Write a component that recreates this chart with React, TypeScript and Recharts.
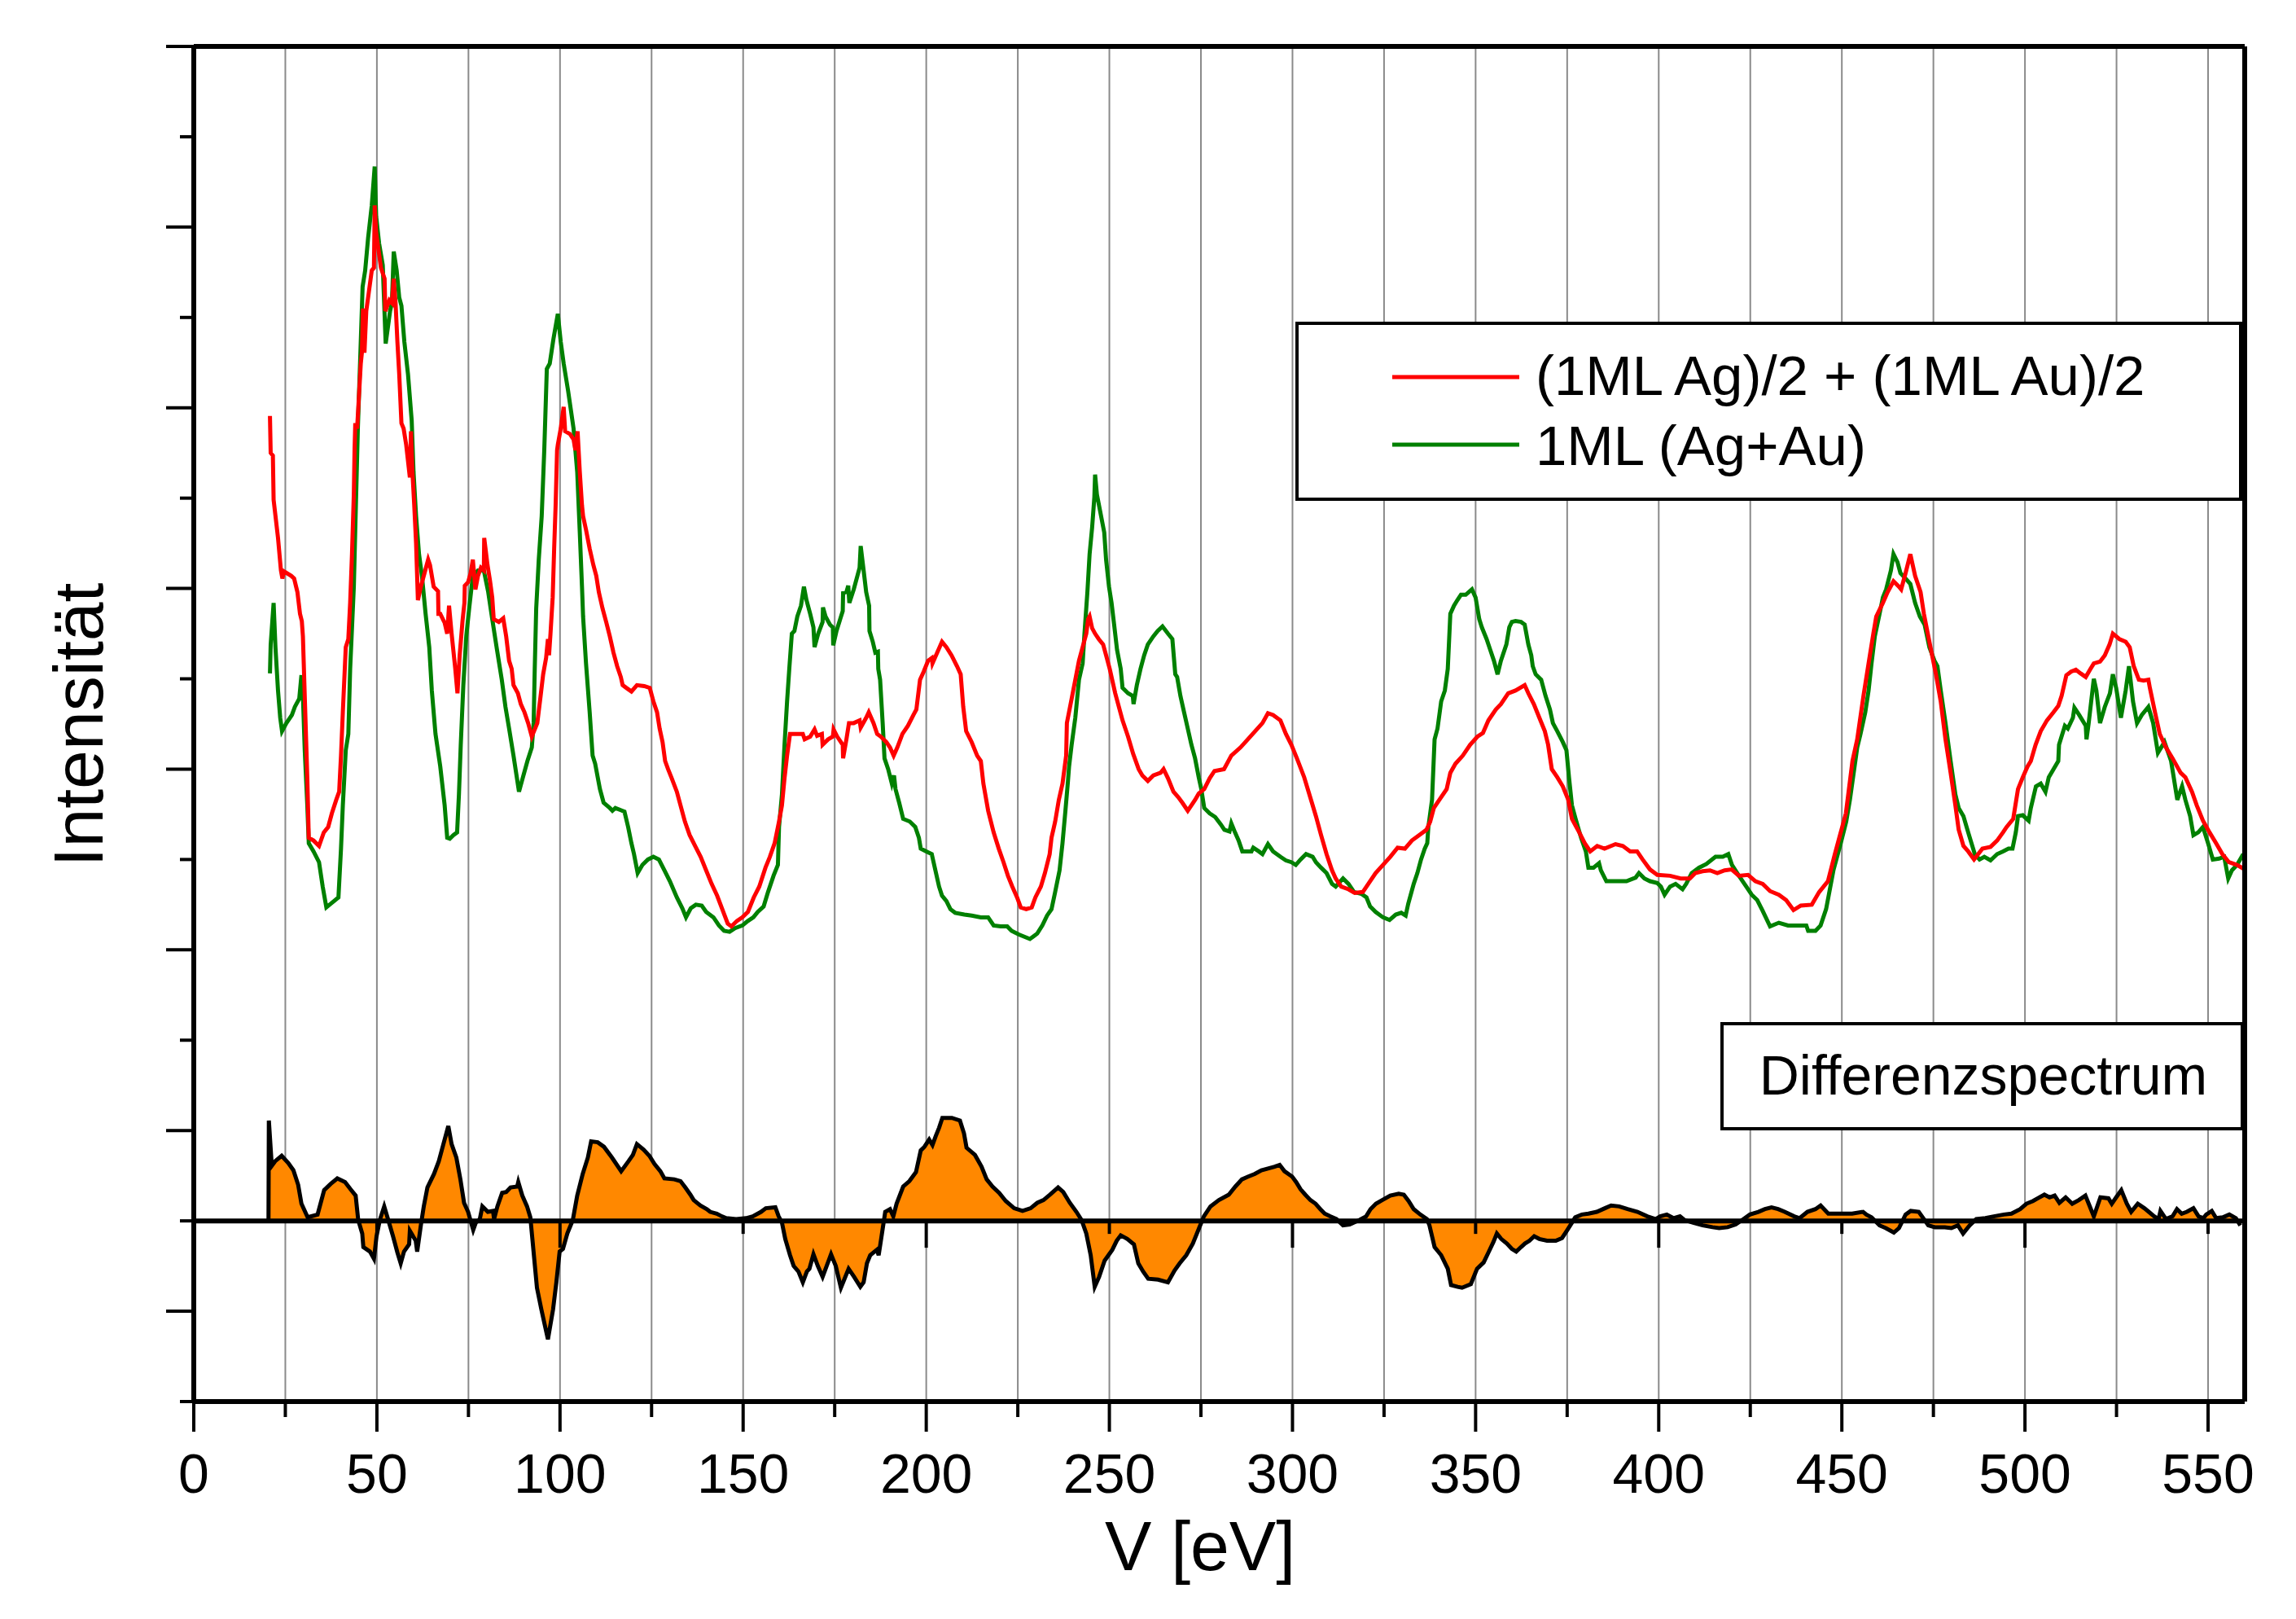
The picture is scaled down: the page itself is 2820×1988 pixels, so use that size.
import React from "react";
import {
  ComposedChart,
  Line,
  Area,
  XAxis,
  YAxis,
  CartesianGrid,
  ReferenceLine,
} from "recharts";

const W = 2820;
const H = 1988;
const FONT = '"Liberation Sans", Arial, Helvetica, sans-serif';

// x ticks every 25 eV (labels on the 50s), y ticks without labels
const xTicks = [0, 25, 50, 75, 100, 125, 150, 175, 200, 225, 250, 275, 300, 325, 350, 375, 400, 425, 450, 475, 500, 525, 550];
const yTicks = [-2, -1, 0, 1, 2, 3, 4, 5, 6, 7, 8, 9, 10, 11, 12, 13];
const zeroAxisTicks = [50, 100, 150, 200, 250, 300, 350, 400, 450, 500, 550];

// [V in eV, intensity]
const redCurve: [number, number][] = [
  [20.8, 8.91], [21.0, 8.5], [21.6, 8.47], [21.8, 7.98], [23.0, 7.56], [23.8, 7.2], [24.2, 7.11], [24.6, 7.19], [26.6, 7.14], [27.4, 7.11],
  [28.3, 6.96], [29.0, 6.72], [29.5, 6.64], [29.8, 6.47], [30.3, 5.81], [31.0, 4.9], [31.4, 4.24], [32.7, 4.21], [34.2, 4.15], [35.5, 4.3],
  [36.7, 4.36], [37.7, 4.51], [38.9, 4.66], [39.7, 4.75], [40.2, 5.15], [40.7, 5.63], [41.5, 6.35], [42.2, 6.44], [42.7, 6.84], [43.2, 7.38],
  [43.7, 8.04], [43.9, 8.53], [44.1, 8.83], [44.6, 8.77], [45.1, 9.13], [45.6, 9.49], [45.9, 9.61], [46.2, 10.1], [46.6, 9.61], [47.1, 10.07],
  [47.8, 10.28], [48.6, 10.52], [49.2, 10.55], [49.4, 11.24], [49.8, 10.94], [50.6, 10.7], [51.1, 10.55], [52.1, 10.43], [52.3, 10.07], [53.4, 10.19],
  [54.1, 10.16], [54.6, 10.43], [55.1, 10.16], [55.6, 9.73], [56.1, 9.37], [56.7, 8.83], [57.3, 8.77], [58.0, 8.59], [58.5, 8.41], [59.0, 8.23],
  [59.3, 8.74], [59.7, 8.29], [60.2, 7.92], [60.7, 7.5], [61.2, 6.87], [62.0, 7.02], [63.0, 7.17], [64.0, 7.32], [64.5, 7.26], [65.5, 7.02],
  [66.7, 6.97], [66.8, 6.72], [67.3, 6.72], [68.5, 6.62], [69.2, 6.5], [69.7, 6.81], [70.4, 6.5], [71.4, 6.11], [72.0, 5.84], [72.6, 6.26],
  [73.4, 6.65], [73.9, 6.84], [74.0, 7.03], [74.9, 7.07], [75.6, 7.17], [76.2, 7.32], [76.9, 6.99], [77.6, 7.14], [78.4, 7.23], [79.2, 7.2],
  [79.3, 7.56], [80.2, 7.26], [80.9, 7.08], [81.5, 6.9], [81.9, 6.66], [83.3, 6.63], [84.5, 6.67], [85.3, 6.47], [86.1, 6.2], [86.8, 6.11],
  [87.3, 5.93], [88.5, 5.84], [89.3, 5.72], [90.3, 5.63], [91.3, 5.51], [92.3, 5.36], [93.8, 5.51], [94.7, 5.81], [95.4, 6.05], [96.2, 6.23],
  [96.7, 6.44], [97.0, 6.26], [97.4, 6.5], [98.0, 6.9], [98.4, 7.44], [98.8, 7.92], [99.2, 8.53], [99.4, 8.59], [100.2, 8.77], [101.0, 9.01],
  [101.4, 8.74], [102.7, 8.71], [103.7, 8.65], [104.2, 8.53], [104.8, 8.74], [105.4, 8.29], [106.0, 7.92], [106.3, 7.8], [107.1, 7.65], [108.1, 7.44],
  [109.1, 7.26], [109.9, 7.14], [110.6, 6.96], [111.6, 6.78], [112.6, 6.63], [113.6, 6.47], [114.6, 6.29], [115.6, 6.14], [116.6, 6.02], [117.1, 5.93],
  [118.1, 5.9], [119.5, 5.86], [121.0, 5.93], [123.0, 5.92], [124.5, 5.9], [125.5, 5.75], [126.5, 5.63], [127.2, 5.45], [128.0, 5.3], [128.7, 5.09],
  [129.5, 5.0], [130.5, 4.9], [131.9, 4.75], [132.9, 4.6], [134.1, 4.42], [135.4, 4.27], [136.9, 4.15], [138.4, 4.03], [139.9, 3.88], [141.4, 3.73],
  [142.9, 3.6], [144.3, 3.45], [145.8, 3.29], [146.8, 3.26], [148.3, 3.32], [149.8, 3.36], [151.3, 3.42], [152.9, 3.58], [154.4, 3.7], [156.1, 3.91],
  [157.3, 4.03], [158.6, 4.18], [159.8, 4.42], [160.6, 4.6], [161.3, 4.9], [162.0, 5.15], [162.8, 5.39], [163.5, 5.39], [166.3, 5.39], [166.8, 5.33],
  [168.3, 5.36], [169.5, 5.44], [170.2, 5.37], [171.5, 5.39], [171.7, 5.27], [173.2, 5.33], [174.5, 5.36], [174.7, 5.44], [175.7, 5.36], [177.2, 5.27],
  [177.3, 5.12], [178.2, 5.33], [178.9, 5.51], [180.2, 5.51], [181.8, 5.54], [182.1, 5.46], [183.6, 5.57], [184.3, 5.63], [185.6, 5.51], [186.6, 5.39],
  [187.6, 5.36], [189.1, 5.3], [190.1, 5.24], [191.1, 5.15], [192.1, 5.24], [193.5, 5.39], [195.0, 5.48], [196.5, 5.6], [197.3, 5.66], [198.3, 5.99],
  [199.3, 6.08], [200.5, 6.2], [201.5, 6.23], [201.7, 6.17], [203.0, 6.29], [204.3, 6.41], [205.5, 6.35], [206.9, 6.26], [208.4, 6.14], [209.4, 6.05],
  [210.1, 5.69], [210.9, 5.42], [212.4, 5.3], [213.9, 5.15], [214.9, 5.09], [215.6, 4.84], [216.9, 4.54], [218.4, 4.3], [219.8, 4.12], [221.1, 3.97],
  [222.3, 3.82], [223.5, 3.7], [224.8, 3.58], [225.8, 3.47], [227.3, 3.45], [228.8, 3.47], [229.8, 3.58], [231.3, 3.7], [232.4, 3.85], [233.7, 4.06],
  [234.2, 4.24], [235.2, 4.42], [236.2, 4.66], [237.2, 4.84], [238.2, 5.15], [238.4, 5.51], [239.7, 5.78], [240.7, 5.99], [241.7, 6.2], [242.7, 6.35],
  [243.7, 6.5], [244.2, 6.66], [244.6, 6.69], [245.3, 6.56], [246.1, 6.5], [247.1, 6.44], [248.3, 6.38], [249.1, 6.26], [250.1, 6.11], [251.6, 5.84],
  [253.6, 5.54], [255.1, 5.36], [256.5, 5.17], [258.0, 5.0], [259.0, 4.93], [260.5, 4.87], [262.0, 4.93], [264.0, 4.96], [264.8, 5.0], [266.0, 4.9],
  [267.5, 4.75], [268.8, 4.69], [269.9, 4.63], [271.4, 4.54], [272.4, 4.6], [273.4, 4.66], [274.4, 4.73], [275.9, 4.78], [277.4, 4.9], [278.7, 4.98],
  [281.3, 5.0], [283.3, 5.15], [285.8, 5.24], [287.8, 5.33], [289.8, 5.42], [291.8, 5.51], [293.3, 5.62], [294.7, 5.6], [296.7, 5.54], [298.2, 5.39],
  [299.7, 5.27], [301.2, 5.12], [303.2, 4.91], [305.5, 4.6], [306.4, 4.48], [307.8, 4.27], [309.3, 4.06], [310.8, 3.88], [311.8, 3.79], [313.3, 3.7],
  [315.3, 3.67], [317.0, 3.63], [319.2, 3.64], [320.7, 3.73], [322.7, 3.85], [324.7, 3.94], [326.7, 4.03], [328.7, 4.13], [330.7, 4.12], [332.6, 4.21],
  [334.6, 4.27], [336.6, 4.33], [337.6, 4.42], [338.6, 4.57], [340.1, 4.66], [342.1, 4.78], [343.1, 4.96], [344.5, 5.06], [346.5, 5.15], [348.5, 5.27],
  [350.5, 5.36], [352.0, 5.4], [353.5, 5.54], [355.5, 5.66], [356.9, 5.72], [358.9, 5.84], [360.9, 5.87], [363.4, 5.93], [364.4, 5.84], [365.9, 5.72],
  [367.4, 5.57], [368.9, 5.42], [369.8, 5.27], [370.8, 5.0], [372.3, 4.91], [373.8, 4.81], [375.3, 4.66], [376.3, 4.45], [378.3, 4.3], [379.8, 4.18],
  [381.3, 4.09], [383.2, 4.15], [385.2, 4.12], [388.2, 4.17], [390.2, 4.15], [392.2, 4.09], [394.1, 4.09], [395.6, 4.0], [397.6, 3.89], [399.6, 3.83],
  [403.1, 3.82], [406.0, 3.79], [408.5, 3.79], [410.0, 3.85], [412.0, 3.87], [414.0, 3.88], [416.0, 3.85], [418.0, 3.88], [419.9, 3.89], [421.9, 3.82],
  [424.4, 3.83], [426.4, 3.76], [428.4, 3.73], [430.4, 3.65], [432.8, 3.61], [434.8, 3.55], [436.8, 3.44], [438.8, 3.49], [441.8, 3.5], [443.8, 3.64],
  [446.2, 3.76], [448.1, 4.06], [449.3, 4.24], [451.1, 4.51], [452.9, 5.09], [454.2, 5.33], [455.9, 5.81], [457.3, 6.17], [458.6, 6.5], [459.4, 6.69],
  [461.2, 6.84], [462.5, 6.96], [464.1, 7.08], [465.6, 7.02], [466.2, 6.99], [467.4, 7.17], [468.7, 7.38], [470.0, 7.14], [471.5, 6.96], [472.4, 6.72],
  [473.9, 6.41], [475.7, 6.05], [477.0, 5.75], [478.3, 5.33], [479.7, 4.96], [481.0, 4.6], [481.9, 4.33], [483.2, 4.15], [484.5, 4.09], [486.1, 4.0],
  [488.4, 4.12], [490.6, 4.14], [492.4, 4.21], [494.0, 4.3], [495.0, 4.36], [496.8, 4.45], [498.1, 4.78], [499.4, 4.91], [500.7, 5.03], [501.6, 5.09],
  [502.9, 5.27], [504.3, 5.42], [506.0, 5.54], [507.8, 5.63], [509.1, 5.7], [510.0, 5.81], [511.3, 6.04], [512.6, 6.08], [513.9, 6.1], [515.2, 6.06],
  [516.6, 6.02], [517.9, 6.11], [518.8, 6.17], [520.5, 6.19], [521.8, 6.26], [523.1, 6.38], [524.0, 6.5], [525.8, 6.44], [527.5, 6.41], [528.6, 6.35],
  [529.7, 6.14], [531.1, 5.99], [532.4, 5.98], [533.7, 5.99], [534.1, 5.9], [535.5, 5.63], [536.8, 5.39], [538.5, 5.24], [540.3, 5.12], [542.5, 4.96],
  [543.8, 4.91], [545.6, 4.75], [546.9, 4.6], [548.6, 4.43], [550.4, 4.3], [552.2, 4.18], [553.9, 4.06], [555.7, 3.97], [557.9, 3.94], [559.6, 3.9],
];

const greenCurve: [number, number][] = [
  [20.8, 6.06], [21.0, 6.38], [21.8, 6.84], [22.3, 6.35], [23.0, 5.87], [23.6, 5.57], [24.1, 5.42], [25.3, 5.51], [26.8, 5.6], [27.6, 5.69],
  [28.8, 5.78], [29.4, 6.04], [29.8, 5.81], [30.3, 5.21], [31.0, 4.6], [31.4, 4.18], [32.7, 4.09], [34.2, 3.97], [35.2, 3.7], [36.2, 3.47],
  [37.7, 3.52], [39.5, 3.58], [40.2, 4.12], [40.7, 4.6], [41.5, 5.21], [42.2, 5.39], [42.7, 6.11], [43.7, 7.02], [44.3, 7.98], [44.8, 8.77],
  [45.4, 9.49], [46.1, 10.34], [46.8, 10.52], [47.6, 10.88], [48.6, 11.24], [49.4, 11.67], [49.8, 11.12], [50.6, 10.82], [51.6, 10.58], [52.4, 9.71],
  [53.1, 9.92], [53.6, 10.07], [54.1, 10.16], [54.6, 10.73], [55.4, 10.52], [56.1, 10.22], [56.7, 10.13], [57.5, 9.73], [58.5, 9.37], [59.5, 8.86],
  [60.0, 8.29], [60.7, 7.8], [61.5, 7.38], [62.3, 7.14], [63.3, 6.72], [64.3, 6.35], [65.0, 5.87], [66.0, 5.39], [67.3, 5.03], [68.5, 4.6],
  [69.2, 4.24], [69.9, 4.23], [70.9, 4.27], [71.9, 4.3], [72.4, 4.72], [72.9, 5.27], [73.6, 5.93], [74.4, 6.47], [75.2, 6.78], [76.2, 7.14],
  [77.6, 7.2], [79.2, 7.2], [80.4, 6.96], [81.5, 6.66], [82.8, 6.32], [84.1, 5.99], [85.1, 5.69], [86.1, 5.45], [87.3, 5.15], [88.8, 4.75],
  [89.8, 4.9], [91.1, 5.09], [92.3, 5.24], [92.8, 5.51], [93.1, 6.11], [93.5, 6.78], [94.2, 7.32], [95.0, 7.8], [95.7, 8.53], [96.4, 9.43],
  [97.2, 9.49], [98.2, 9.76], [99.4, 10.04], [100.2, 9.73], [101.0, 9.49], [102.2, 9.19], [103.7, 8.77], [104.7, 8.29], [105.4, 7.62], [106.0, 7.02],
  [106.3, 6.69], [107.1, 6.17], [108.1, 5.63], [108.9, 5.15], [109.6, 5.06], [110.9, 4.78], [111.9, 4.63], [113.6, 4.57], [114.3, 4.54], [115.1, 4.57],
  [117.6, 4.53], [118.6, 4.36], [119.5, 4.18], [120.2, 4.06], [121.2, 3.85], [122.5, 3.94], [124.0, 4.0], [125.5, 4.03], [127.0, 4.0], [128.5, 3.88],
  [130.0, 3.76], [131.9, 3.58], [133.4, 3.46], [134.4, 3.36], [135.7, 3.46], [137.1, 3.5], [138.7, 3.49], [139.9, 3.42], [141.9, 3.36], [143.4, 3.27],
  [144.8, 3.21], [146.3, 3.2], [147.8, 3.24], [149.8, 3.27], [151.3, 3.32], [152.8, 3.36], [154.0, 3.42], [155.6, 3.48], [156.8, 3.64], [158.3, 3.82],
  [159.5, 3.94], [159.8, 4.36], [160.6, 4.72], [161.3, 5.27], [162.0, 5.75], [162.6, 6.11], [163.3, 6.5], [164.0, 6.53], [164.8, 6.69], [165.8, 6.81],
  [166.6, 7.02], [167.3, 6.87], [168.3, 6.72], [169.2, 6.57], [169.5, 6.35], [170.5, 6.5], [171.7, 6.63], [171.8, 6.79], [172.5, 6.69], [173.7, 6.6],
  [174.5, 6.57], [174.6, 6.37], [175.5, 6.53], [176.5, 6.66], [177.2, 6.75], [177.3, 6.95], [178.2, 6.96], [178.7, 7.03], [179.0, 6.84], [180.2, 6.99],
  [181.2, 7.14], [181.8, 7.23], [182.1, 7.47], [182.9, 7.2], [183.6, 6.96], [184.4, 6.81], [184.5, 6.53], [185.4, 6.41], [186.1, 6.29], [186.8, 6.3],
  [186.9, 6.11], [187.4, 5.99], [188.1, 5.51], [188.6, 5.12], [189.6, 5.0], [190.6, 4.84], [191.2, 4.93], [191.6, 4.78], [192.6, 4.63], [193.7, 4.45],
  [195.5, 4.42], [197.0, 4.36], [198.0, 4.24], [198.5, 4.12], [200.0, 4.09], [201.5, 4.06], [202.5, 3.88], [203.5, 3.7], [204.3, 3.6], [205.5, 3.54],
  [206.6, 3.45], [207.9, 3.41], [210.4, 3.39], [212.4, 3.38], [214.9, 3.36], [216.9, 3.36], [218.4, 3.27], [220.3, 3.26], [222.1, 3.26], [223.3, 3.21],
  [225.3, 3.17], [228.3, 3.12], [230.3, 3.18], [231.7, 3.27], [233.0, 3.38], [234.2, 3.45], [235.2, 3.64], [236.4, 3.88], [237.2, 4.18], [238.0, 4.54],
  [238.7, 4.87], [239.0, 5.03], [239.7, 5.27], [240.7, 5.57], [241.7, 5.99], [242.7, 6.17], [243.2, 6.5], [244.0, 6.96], [244.6, 7.38], [245.3, 7.68],
  [245.9, 8.01], [246.1, 8.26], [246.6, 8.04], [247.6, 7.83], [248.6, 7.62], [249.1, 7.32], [249.9, 7.02], [250.6, 6.84], [251.3, 6.6], [252.1, 6.32],
  [253.1, 6.11], [253.6, 5.9], [255.1, 5.84], [256.4, 5.81], [256.6, 5.72], [257.5, 5.93], [258.5, 6.11], [259.5, 6.26], [260.5, 6.38], [262.0, 6.47],
  [263.2, 6.53], [264.5, 6.58], [266.0, 6.5], [267.2, 6.44], [268.0, 6.05], [268.5, 6.02], [269.4, 5.81], [270.4, 5.63], [271.4, 5.45], [272.4, 5.27],
  [273.4, 5.12], [274.4, 4.91], [275.1, 4.78], [275.9, 4.57], [277.4, 4.51], [278.9, 4.47], [280.4, 4.39], [281.4, 4.33], [282.8, 4.31], [283.3, 4.4],
  [284.3, 4.3], [285.3, 4.21], [286.3, 4.09], [288.8, 4.09], [289.3, 4.13], [290.8, 4.09], [291.8, 4.06], [293.3, 4.17], [294.7, 4.09], [296.7, 4.03],
  [298.2, 3.99], [299.7, 3.97], [300.9, 3.94], [302.2, 4.0], [303.7, 4.06], [305.5, 4.03], [306.4, 3.97], [307.8, 3.91], [309.3, 3.85], [310.8, 3.73],
  [311.8, 3.7], [313.8, 3.79], [315.3, 3.73], [316.8, 3.64], [318.8, 3.62], [320.2, 3.58], [321.2, 3.48], [322.7, 3.42], [324.7, 3.36], [326.5, 3.33],
  [328.2, 3.39], [329.7, 3.41], [330.9, 3.38], [331.6, 3.51], [333.1, 3.73], [334.1, 3.85], [335.1, 4.0], [336.1, 4.12], [336.8, 4.18], [337.1, 4.36],
  [338.1, 4.66], [338.8, 5.33], [339.6, 5.45], [340.6, 5.75], [341.6, 5.87], [342.4, 6.11], [343.1, 6.72], [344.1, 6.81], [345.0, 6.87], [346.0, 6.93],
  [347.3, 6.93], [349.0, 6.99], [350.0, 6.9], [351.0, 6.66], [351.7, 6.57], [353.0, 6.44], [354.0, 6.32], [355.0, 6.2], [356.0, 6.05], [356.9, 6.2],
  [358.4, 6.38], [359.2, 6.57], [359.9, 6.63], [360.9, 6.64], [362.4, 6.63], [363.4, 6.6], [364.4, 6.38], [365.2, 6.26], [365.6, 6.14], [366.4, 6.05],
  [367.9, 5.99], [369.1, 5.81], [370.3, 5.66], [371.1, 5.51], [372.3, 5.42], [373.8, 5.3], [374.8, 5.21], [375.5, 4.91], [376.3, 4.6], [377.3, 4.45],
  [378.8, 4.24], [380.1, 4.09], [380.8, 3.91], [382.2, 3.91], [383.7, 3.96], [384.2, 3.88], [385.7, 3.76], [387.2, 3.76], [389.2, 3.76], [391.2, 3.76],
  [393.7, 3.8], [394.6, 3.85], [396.1, 3.79], [397.6, 3.76], [399.6, 3.74], [400.6, 3.7], [401.6, 3.61], [403.1, 3.7], [404.6, 3.73], [406.5, 3.67],
  [407.5, 3.73], [409.0, 3.85], [411.0, 3.91], [413.0, 3.95], [415.5, 4.03], [417.5, 4.03], [419.0, 4.06], [420.0, 3.94], [421.9, 3.82], [423.9, 3.7],
  [425.4, 3.61], [426.9, 3.55], [428.4, 3.43], [430.4, 3.26], [432.8, 3.3], [435.3, 3.27], [437.8, 3.27], [440.3, 3.27], [440.8, 3.21], [442.8, 3.21],
  [444.2, 3.27], [445.7, 3.45], [447.7, 3.88], [449.7, 4.18], [451.2, 4.42], [452.2, 4.66], [454.2, 5.24], [455.1, 5.39], [456.4, 5.63], [457.3, 5.87],
  [458.1, 6.17], [459.0, 6.47], [460.3, 6.72], [461.2, 6.9], [462.1, 6.99], [463.4, 7.2], [464.1, 7.38], [465.2, 7.29], [466.0, 7.17], [467.4, 7.11],
  [468.7, 7.05], [470.0, 6.84], [471.3, 6.69], [472.6, 6.6], [473.9, 6.35], [475.3, 6.2], [476.1, 6.14], [477.0, 5.87], [478.3, 5.51], [479.7, 5.09],
  [481.0, 4.72], [481.9, 4.57], [483.2, 4.48], [484.5, 4.3], [486.3, 4.06], [487.6, 4.0], [488.9, 4.03], [490.6, 3.99], [492.4, 4.06], [494.0, 4.09],
  [495.5, 4.12], [496.6, 4.12], [497.5, 4.3], [498.1, 4.48], [499.4, 4.49], [501.0, 4.43], [501.6, 4.57], [503.0, 4.81], [504.3, 4.84], [505.6, 4.75],
  [506.5, 4.91], [507.8, 5.0], [509.1, 5.09], [509.3, 5.27], [510.9, 5.48], [511.7, 5.45], [513.1, 5.57], [513.5, 5.68], [514.8, 5.6], [516.6, 5.48],
  [516.8, 5.33], [517.4, 5.51], [518.8, 6.0], [519.5, 5.87], [520.5, 5.51], [521.8, 5.69], [523.2, 5.84], [524.0, 6.05], [524.9, 5.9], [526.2, 5.57],
  [527.5, 5.87], [528.4, 6.14], [529.5, 5.75], [530.6, 5.51], [531.9, 5.6], [533.7, 5.69], [535.0, 5.51], [536.3, 5.18], [538.1, 5.3], [539.9, 5.09],
  [541.6, 4.66], [542.9, 4.81], [543.8, 4.66], [545.1, 4.48], [546.0, 4.27], [547.3, 4.3], [548.6, 4.36], [550.0, 4.18], [551.3, 4.0], [553.0, 4.01],
  [554.4, 4.03], [555.5, 3.79], [556.5, 3.88], [557.9, 3.94], [559.6, 4.06],
];

const diffCurve: [number, number][] = [
  [20.4, 0], [20.5, 1.11], [21.3, 0.61], [22.2, 0.66], [24.0, 0.72], [25.8, 0.64], [27.2, 0.56], [28.5, 0.4], [29.4, 0.19], [31.1, 0.04],
  [33.8, 0.07], [35.6, 0.34], [37.4, 0.41], [39.2, 0.47], [41.3, 0.43], [42.8, 0.35], [44.2, 0.28], [44.9, 0.01], [46.0, -0.14], [46.3, -0.29],
  [48.1, -0.34], [49.2, -0.42], [49.9, -0.17], [50.8, 0.01], [52.0, 0.16], [53.1, 0.01], [54.4, -0.17], [55.6, -0.35], [56.5, -0.47], [57.4, -0.34],
  [58.8, -0.26], [59.0, -0.11], [60.6, -0.22], [61.0, -0.34], [62.0, -0.05], [62.8, 0.16], [63.8, 0.37], [65.6, 0.52], [66.9, 0.66], [68.1, 0.84],
  [69.5, 1.05], [70.4, 0.85], [71.7, 0.7], [72.8, 0.46], [73.8, 0.2], [74.9, 0.1], [76.3, -0.1], [77.0, -0.02], [78.1, 0.02], [78.8, 0.16],
  [80.3, 0.1], [81.7, 0.11], [82.0, 0.02], [82.9, 0.16], [84.2, 0.31], [85.3, 0.32], [86.5, 0.37], [88.3, 0.38], [88.6, 0.43], [89.7, 0.28],
  [91.0, 0.16], [91.9, 0.04], [92.8, -0.35], [93.7, -0.74], [94.9, -0.98], [96.7, -1.31], [98.1, -0.98], [99.0, -0.68], [99.9, -0.34], [100.8, -0.31],
  [102.0, -0.14], [103.5, 0.01], [104.7, 0.28], [106.2, 0.52], [107.6, 0.7], [108.5, 0.88], [110.3, 0.87], [112.0, 0.82], [114.2, 0.7], [116.7, 0.55],
  [118.7, 0.66], [119.9, 0.73], [121.0, 0.85], [122.8, 0.79], [124.4, 0.72], [125.8, 0.63], [127.4, 0.55], [128.5, 0.47], [131.2, 0.46], [132.9, 0.44],
  [134.2, 0.37], [135.6, 0.29], [136.5, 0.23], [138.3, 0.17], [140.1, 0.13], [141.0, 0.1], [142.8, 0.08], [144.2, 0.05], [145.4, 0.03], [148.1, 0.02],
  [150.8, 0.03], [152.6, 0.05], [154.9, 0.1], [156.2, 0.14], [158.8, 0.15], [159.7, 0.05], [160.6, -0.02], [161.5, -0.2], [162.8, -0.38], [163.8, -0.5],
  [165.1, -0.56], [166.3, -0.68], [167.4, -0.56], [168.1, -0.53], [169.2, -0.37], [170.4, -0.5], [171.7, -0.62], [172.8, -0.5], [174.0, -0.37], [175.3, -0.5],
  [176.7, -0.74], [177.6, -0.65], [178.8, -0.53], [180.3, -0.62], [182.0, -0.73], [182.9, -0.68], [183.8, -0.47], [184.7, -0.38], [186.5, -0.32], [187.0, -0.38],
  [187.8, -0.17], [188.8, 0.1], [190.1, 0.13], [191.0, 0.05], [191.9, 0.19], [193.7, 0.38], [195.4, 0.44], [197.2, 0.54], [198.5, 0.78], [199.5, 0.82],
  [200.8, 0.9], [201.7, 0.84], [202.6, 0.94], [203.5, 1.03], [204.4, 1.14], [207.0, 1.14], [209.2, 1.11], [210.3, 0.97], [211.0, 0.81], [213.3, 0.73],
  [215.1, 0.6], [216.5, 0.46], [218.1, 0.38], [219.9, 0.31], [221.7, 0.22], [224.0, 0.14], [226.3, 0.11], [228.5, 0.14], [230.3, 0.2], [232.0, 0.23],
  [233.8, 0.29], [236.0, 0.37], [237.4, 0.32], [239.2, 0.2], [241.0, 0.1], [242.4, 0.01], [243.7, -0.14], [244.9, -0.38], [246.0, -0.73], [247.2, -0.62],
  [248.7, -0.44], [250.8, -0.32], [252.0, -0.22], [253.1, -0.16], [254.9, -0.2], [256.7, -0.26], [257.9, -0.47], [259.2, -0.56], [260.6, -0.64], [263.3, -0.65],
  [266.0, -0.68], [267.8, -0.55], [269.2, -0.47], [271.0, -0.38], [272.8, -0.25], [274.5, -0.08], [275.8, 0.05], [277.6, 0.16], [279.9, 0.23], [282.6, 0.29],
  [284.4, 0.38], [286.2, 0.46], [287.9, 0.49], [289.7, 0.52], [291.5, 0.56], [293.3, 0.58], [295.1, 0.6], [296.5, 0.62], [297.8, 0.55], [299.9, 0.49],
  [301.0, 0.43], [302.2, 0.35], [303.5, 0.29], [304.9, 0.23], [306.3, 0.19], [307.6, 0.13], [308.8, 0.08], [310.3, 0.05], [312.0, 0.02], [313.8, -0.05],
  [315.6, -0.04], [318.3, 0.01], [320.1, 0.05], [321.3, 0.13], [322.8, 0.19], [324.5, 0.23], [326.7, 0.28], [329.0, 0.3], [330.4, 0.29], [331.7, 0.22],
  [333.1, 0.13], [334.9, 0.07], [336.7, 0.02], [337.4, -0.05], [338.8, -0.29], [340.6, -0.38], [342.4, -0.53], [343.3, -0.71], [345.1, -0.73], [346.3, -0.74],
  [348.7, -0.7], [350.4, -0.53], [352.2, -0.46], [353.5, -0.35], [354.9, -0.23], [355.8, -0.14], [357.0, -0.2], [358.5, -0.25], [359.9, -0.31], [361.1, -0.34],
  [362.4, -0.29], [363.5, -0.25], [364.7, -0.22], [366.0, -0.17], [367.4, -0.2], [369.5, -0.22], [371.9, -0.22], [373.6, -0.19], [374.9, -0.11], [376.3, -0.02],
  [377.2, 0.04], [379.0, 0.07], [380.8, 0.08], [383.1, 0.1], [385.3, 0.14], [387.0, 0.17], [389.2, 0.16], [391.5, 0.13], [394.2, 0.1], [396.9, 0.05],
  [399.2, 0.02], [400.4, 0.05], [402.2, 0.07], [404.0, 0.03], [405.8, 0.05], [407.0, 0.01], [409.4, -0.02], [412.0, -0.05], [414.7, -0.07], [416.5, -0.08],
  [418.8, -0.07], [421.0, -0.04], [422.8, 0.01], [424.9, 0.07], [427.2, 0.1], [429.0, 0.13], [430.8, 0.15], [432.6, 0.13], [434.4, 0.1], [437.0, 0.05],
  [438.5, 0.03], [440.6, 0.1], [442.8, 0.13], [444.2, 0.17], [446.3, 0.08], [449.2, 0.08], [452.8, 0.08], [455.8, 0.1], [456.7, 0.07], [458.1, 0.04],
  [460.3, -0.05], [462.0, -0.08], [464.2, -0.13], [465.6, -0.08], [467.4, 0.07], [468.8, 0.11], [471.0, 0.1], [472.4, 0.02], [473.6, -0.05], [475.4, -0.07],
  [478.1, -0.07], [479.9, -0.08], [481.7, -0.05], [483.1, -0.14], [484.9, -0.05], [486.7, 0.02], [489.2, 0.03], [491.5, 0.05], [494.2, 0.07], [496.3, 0.08],
  [498.7, 0.13], [500.4, 0.19], [502.2, 0.22], [503.5, 0.25], [505.3, 0.29], [506.7, 0.26], [508.1, 0.28], [509.4, 0.2], [511.1, 0.26], [512.9, 0.19],
  [514.7, 0.23], [516.5, 0.28], [517.4, 0.19], [518.8, 0.05], [520.6, 0.26], [522.8, 0.25], [523.7, 0.19], [524.9, 0.26], [526.3, 0.34], [527.8, 0.19],
  [529.0, 0.1], [530.8, 0.19], [532.6, 0.14], [533.8, 0.1], [535.3, 0.05], [536.5, 0.02], [537.0, 0.11], [538.5, 0.02], [540.3, 0.05], [541.5, 0.13],
  [542.8, 0.08], [544.2, 0.1], [546.0, 0.14], [547.4, 0.05], [548.7, 0.03], [549.5, 0.07], [551.0, 0.11], [552.2, 0.03], [554.0, 0.04], [555.8, 0.07],
  [557.6, 0.03], [558.8, -0.05],
];

const toPoints = (arr: [number, number][]) => arr.map(([e, v]) => ({ e, v }));
const redData = toPoints(redCurve);
const greenData = toPoints(greenCurve);
const diffData = toPoints(diffCurve);

function XTick(props: any) {
  const { x, y, payload } = props;
  const major = payload.value % 50 === 0;
  return (
    <g>
      <line x1={x} y1={y} x2={x} y2={y + (major ? 37 : 19)} stroke="#000" strokeWidth={4} />
      {major && (
        <text x={x} y={y + 112} textAnchor="middle" fontSize={68} fontFamily={FONT} fill="#000">
          {payload.value}
        </text>
      )}
    </g>
  );
}

function YTick(props: any) {
  const { x, y, payload } = props;
  const major = Math.abs(payload.value) % 2 === 1;
  return <line x1={x - (major ? 34 : 17)} y1={y} x2={x} y2={y} stroke="#000" strokeWidth={4} />;
}

// zero line of the difference spectrum, with its own ticks hanging below
function ZeroAxis(props: any) {
  const { x1, x2, y1 } = props;
  const span = x2 - x1;
  return (
    <g>
      <line x1={x1} y1={y1} x2={x2} y2={y1} stroke="#000" strokeWidth={6} />
      {zeroAxisTicks.map((t) => {
        const px = x1 + (span * t) / 560;
        return (
          <line key={t} x1={px} y1={y1} x2={px} y2={y1 + (t % 100 === 0 ? 33 : 16)} stroke="#000" strokeWidth={4} />
        );
      })}
    </g>
  );
}

export default function App() {
  return (
    <div style={{ position: "absolute", left: 0, top: 0, width: W, height: H, background: "#fff" }}>
      <ComposedChart
        width={W}
        height={H}
        margin={{ top: 57, right: 63, bottom: 67, left: 0 }}
        style={{ fontFamily: FONT }}
      >
        <CartesianGrid vertical horizontal={false} stroke="#8a8a8a" strokeWidth={2} />
        <XAxis
          dataKey="e"
          type="number"
          domain={[0, 560]}
          allowDataOverflow
          ticks={xTicks}
          interval={0}
          height={200}
          tickSize={0}
          tickMargin={0}
          tickLine={false}
          tick={<XTick />}
          axisLine={{ stroke: "#000", strokeWidth: 6 }}
        />
        <YAxis
          type="number"
          domain={[-2, 13]}
          allowDataOverflow
          ticks={yTicks}
          interval={0}
          width={238}
          tickSize={0}
          tickMargin={0}
          tickLine={false}
          tick={<YTick />}
          axisLine={{ stroke: "#000", strokeWidth: 6 }}
        />
        <Area
          data={diffData}
          dataKey="v"
          type="linear"
          baseValue={0}
          stroke="#000"
          strokeWidth={5}
          fill="#FF8800"
          fillOpacity={1}
          isAnimationActive={false}
        />
        <Line data={greenData} dataKey="v" type="linear" stroke="#008000" strokeWidth={5} dot={false} isAnimationActive={false} />
        <Line data={redData} dataKey="v" type="linear" stroke="#FF0000" strokeWidth={5} dot={false} isAnimationActive={false} />
        <ReferenceLine y={0} shape={<ZeroAxis />} />
        <ReferenceLine y={13} stroke="#000" strokeWidth={6} />
        <ReferenceLine x={560} stroke="#000" strokeWidth={6} />
      </ComposedChart>
      <svg
        width={W}
        height={H}
        style={{ position: "absolute", left: 0, top: 0, pointerEvents: "none" }}
        fontFamily={FONT}
      >
        <text x={1474} y={1928} textAnchor="middle" fontSize={86} fill="#000">
          V [eV]
        </text>
        <text transform="translate(126,890) rotate(-90)" textAnchor="middle" fontSize={86} fill="#000">
          Intensität
        </text>

        <rect x={1593} y={397} width={1159} height={216} fill="#fff" stroke="#000" strokeWidth={4} />
        <line x1={1710} y1={463} x2={1866} y2={463} stroke="#FF0000" strokeWidth={5} />
        <text x={1886} y={485} fontSize={69} fill="#000">
          (1ML Ag)/2 + (1ML Au)/2
        </text>
        <line x1={1710} y1={546} x2={1866} y2={546} stroke="#008000" strokeWidth={5} />
        <text x={1886} y={571} fontSize={69} fill="#000">
          1ML (Ag+Au)
        </text>

        <rect x={2115} y={1257} width={639} height={129} fill="#fff" stroke="#000" strokeWidth={4} />
        <text x={2436} y={1344} textAnchor="middle" fontSize={68} fill="#000">
          Differenzspectrum
        </text>
      </svg>
    </div>
  );
}
